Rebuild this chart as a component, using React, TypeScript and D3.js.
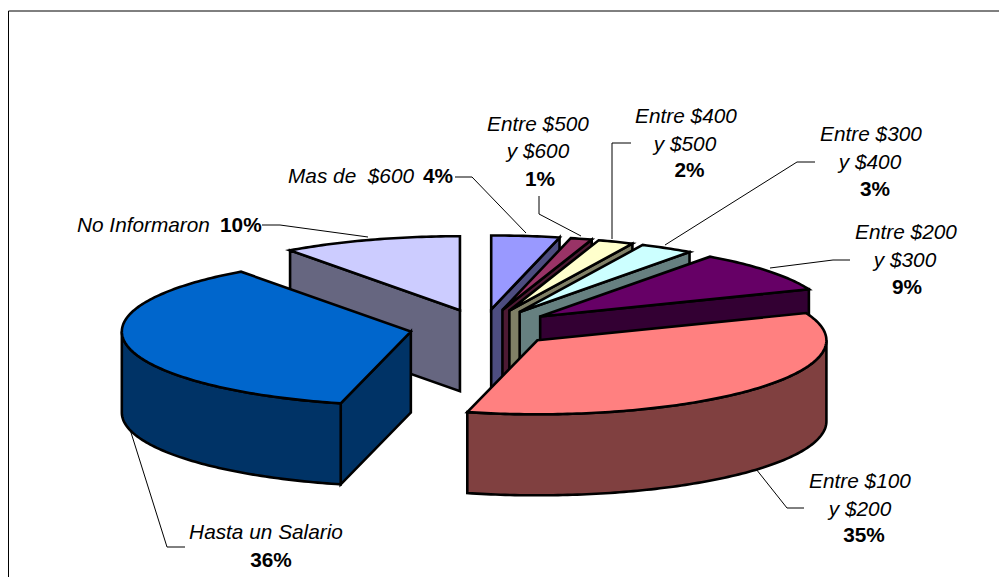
import React from "react";
import * as d3 from "d3";

// Data (clockwise from 12 o'clock)
const categories = [
  "Mas de  $600",
  "Entre $500 y $600",
  "Entre $400 y $500",
  "Entre $300 y $400",
  "Entre $200 y $300",
  "Entre $100 y $200",
  "Hasta un Salario",
  "No Informaron",
];
const values = [3.8, 1.2, 2, 3, 9, 34.9, 36.1, 10];
const percentLabels = ["4%", "1%", "2%", "3%", "9%", "35%", "36%", "10%"];
const topColors = ["#9999FF", "#993366", "#FFFFCC", "#CCFFFF", "#660066", "#FF8080", "#0066CC", "#CCCCFF"];

// Layout
const W = 999;
const H = 577;
const CX = 482.5;
const CY = 328;
const RX = 289;
const RY = 74;
const DEPTH = 81;
const EXPLODE = 73;
const FONT = "'Liberation Sans', Arial, sans-serif";
const FS = 20.8;

type Pt = [number, number];
type TextLine = { t: string; x: number; y: number; bold?: boolean; anchor?: string };

const leaders: Pt[][] = [
  [[455, 177], [472, 177], [526, 233]],
  [[539, 196], [539, 214], [581, 236]],
  [[631, 143], [612, 143], [612, 239]],
  [[815, 162], [797, 162], [665, 245]],
  [[850, 260], [833, 260], [770, 268]],
  [[804, 508], [787, 508], [756, 469]],
  [[185, 547], [167, 547], [128, 423]],
  [[262, 225], [280, 225], [368, 237]],
];

const textLines: TextLine[] = [
  { t: categories[0], x: 288, y: 183, anchor: "start" },
  { t: percentLabels[0], x: 423, y: 183, bold: true, anchor: "start" },
  { t: "Entre $500", x: 538, y: 131 },
  { t: "y $600", x: 538, y: 158 },
  { t: percentLabels[1], x: 540, y: 186, bold: true },
  { t: "Entre $400", x: 686, y: 123 },
  { t: "y $500", x: 685, y: 151 },
  { t: percentLabels[2], x: 689.5, y: 177, bold: true },
  { t: "Entre $300", x: 871, y: 141 },
  { t: "y $400", x: 870, y: 169 },
  { t: percentLabels[3], x: 875, y: 196, bold: true },
  { t: "Entre $200", x: 906, y: 239 },
  { t: "y $300", x: 905, y: 267 },
  { t: percentLabels[4], x: 907, y: 294, bold: true },
  { t: "Entre $100", x: 860, y: 488 },
  { t: "y $200", x: 860, y: 516 },
  { t: percentLabels[5], x: 864, y: 542, bold: true },
  { t: categories[6], x: 266, y: 539 },
  { t: percentLabels[6], x: 271, y: 567, bold: true },
  { t: categories[7], x: 77, y: 232, anchor: "start" },
  { t: percentLabels[7], x: 220, y: 232, bold: true, anchor: "start" },
];

const darken = (c: string) => {
  const k = d3.rgb(c);
  return d3.rgb(k.r / 2, k.g / 2, k.b / 2).formatHex();
};

const pieGen = d3.pie<number>().sort(null).startAngle(0).endAngle(2 * Math.PI);
const line = d3.line<Pt>();

function buildSlices() {
  return pieGen(values)
    .map((a, i) => {
      const mid = (a.startAngle + a.endAngle) / 2;
      const ax = CX + EXPLODE * Math.sin(mid);
      const ay = CY - (EXPLODE * RY / RX) * Math.cos(mid);
      const at = (ang: number, dz = 0): Pt => [ax + RX * Math.sin(ang), ay - RY * Math.cos(ang) + dz];
      const arcPts = (a0: number, a1: number, dz = 0): Pt[] => {
        const n = Math.max(2, Math.ceil((a1 - a0) * 60));
        return d3.range(n + 1).map((k) => at(a0 + ((a1 - a0) * k) / n, dz));
      };
      const top: Pt[] = [[ax, ay], ...arcPts(a.startAngle, a.endAngle)];
      const walls: Pt[][] = [];
      const edgeWall = (ang: number): Pt[] => [[ax, ay], at(ang), at(ang, DEPTH), [ax, ay + DEPTH]];
      if (Math.sin(a.startAngle) < -1e-3) walls.push(edgeWall(a.startAngle));
      if (Math.sin(a.endAngle) > 1e-3) walls.push(edgeWall(a.endAngle));
      const w0 = Math.max(a.startAngle, Math.PI / 2);
      const w1 = Math.min(a.endAngle, (3 * Math.PI) / 2);
      if (w1 > w0) walls.push([...arcPts(w0, w1), ...arcPts(w0, w1, DEPTH).reverse()]);
      return { i, mid, top, walls, color: topColors[i], side: darken(topColors[i]) };
    })
    .sort((p, q) => d3.descending(Math.cos(p.mid), Math.cos(q.mid)));
}

export default function App() {
  const slices = buildSlices();
  return (
    <svg
      width={W}
      height={H}
      viewBox={`0 0 ${W} ${H}`}
      style={{ position: "fixed", left: 0, top: 0, background: "#fff", display: "block" }}
    >
      <path d="M8.5,577V11H999" fill="none" stroke="#000" strokeWidth={1} />
      {leaders.map((l, i) => (
        <path key={i} d={line(l) ?? ""} fill="none" stroke="#000" strokeWidth={1} />
      ))}
      {slices.map((s) => (
        <g key={s.i} stroke="#000" strokeWidth={2.6} strokeLinejoin="miter" strokeMiterlimit={6}>
          {s.walls.map((w, k) => (
            <path key={k} d={(line(w) ?? "") + "Z"} fill={s.side} />
          ))}
          <path d={(line(s.top) ?? "") + "Z"} fill={s.color} />
        </g>
      ))}
      <g fontFamily={FONT} fontSize={FS} fill="#000">
        {textLines.map((t, i) => (
          <text
            key={i}
            x={t.x}
            y={t.y}
            textAnchor={t.anchor ?? "middle"}
            fontStyle={t.bold ? "normal" : "italic"}
            fontWeight={t.bold ? "bold" : "normal"}
            xmlSpace="preserve"
            style={{ whiteSpace: "pre" }}
          >
            {t.t}
          </text>
        ))}
      </g>
    </svg>
  );
}
